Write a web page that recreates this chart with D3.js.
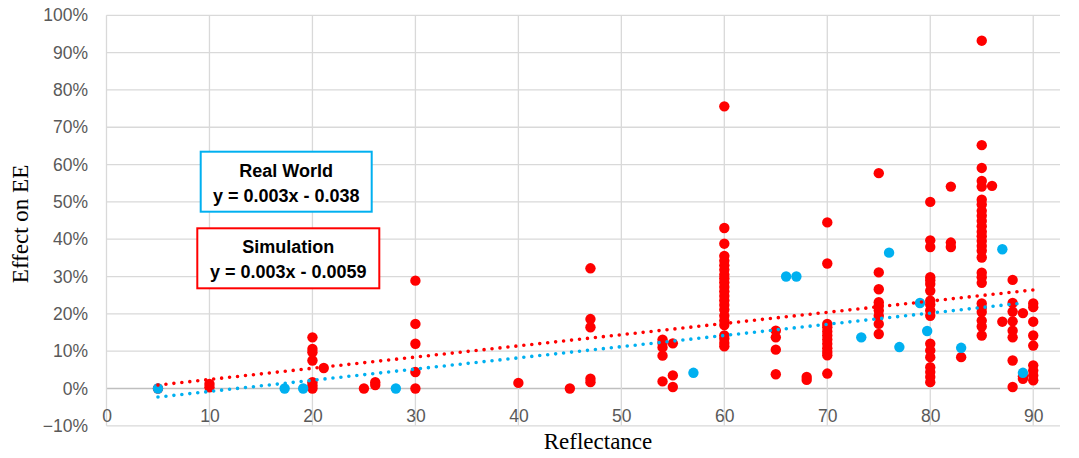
<!DOCTYPE html>
<html>
<head>
<meta charset="utf-8">
<script src="https://cdn.jsdelivr.net/npm/d3@7"></script>
<style>
  body { margin: 0; background: #fff; }
  svg { display: block; }
</style>
</head>
<body>
<div id="chart"></div>
<script>
// Simulation points (red): [reflectance, effect]
const simPoints = [
  [5, 0.0],
  [10, 0.012], [10, 0.003],
  [20, 0.137], [20, 0.106], [20, 0.097], [20, 0.075], [20, 0.017], [20, 0.008], [20, 0.0],
  [21.1, 0.055],
  [25, 0.0],
  [26.1, 0.017], [26.1, 0.009],
  [30, 0.289], [30, 0.173], [30, 0.12], [30, 0.044], [30, 0.0],
  [40, 0.015],
  [45, 0.0],
  [47, 0.322], [47, 0.186], [47, 0.164], [47, 0.026], [47, 0.017],
  [54, 0.131], [54, 0.122], [54, 0.11], [54, 0.088], [54, 0.019],
  [55, 0.121], [55, 0.035], [55, 0.004],
  [60, 0.756], [60, 0.43], [60, 0.388], [60, 0.355], [60, 0.342], [60, 0.33], [60, 0.318],
  [60, 0.305], [60, 0.295], [60, 0.284], [60, 0.272], [60, 0.26], [60, 0.248], [60, 0.236],
  [60, 0.224], [60, 0.211], [60, 0.195], [60, 0.182], [60, 0.17], [60, 0.142], [60, 0.133],
  [60, 0.122], [60, 0.113],
  [65, 0.155], [65, 0.137], [65, 0.104], [65, 0.038],
  [68, 0.031], [68, 0.023],
  [70, 0.445], [70, 0.335], [70, 0.173], [70, 0.164], [70, 0.153], [70, 0.142], [70, 0.131],
  [70, 0.12], [70, 0.108], [70, 0.098], [70, 0.089], [70, 0.04],
  [75, 0.577], [75, 0.311], [75, 0.266], [75, 0.231], [75, 0.222], [75, 0.209], [75, 0.195],
  [75, 0.173], [75, 0.146],
  [80, 0.50], [80, 0.397], [80, 0.379], [80, 0.298], [80, 0.29], [80, 0.28], [80, 0.262],
  [80, 0.235], [80, 0.225], [80, 0.209], [80, 0.195], [80, 0.12], [80, 0.102], [80, 0.084],
  [80, 0.057], [80, 0.044], [80, 0.031], [80, 0.017],
  [82, 0.541], [82, 0.391], [82, 0.379],
  [83, 0.084],
  [85, 0.932], [85, 0.652], [85, 0.591], [85, 0.556], [85, 0.541], [85, 0.506], [85, 0.493],
  [85, 0.476], [85, 0.463], [85, 0.449], [85, 0.435], [85, 0.42], [85, 0.408], [85, 0.395],
  [85, 0.382], [85, 0.369], [85, 0.351], [85, 0.31], [85, 0.298], [85, 0.283], [85, 0.228],
  [85, 0.216], [85, 0.205], [85, 0.182], [85, 0.166], [85, 0.142],
  [86, 0.543],
  [87, 0.179],
  [88, 0.291], [88, 0.229], [88, 0.206], [88, 0.18], [88, 0.155], [88, 0.137], [88, 0.075], [88, 0.004],
  [89, 0.202], [89, 0.033], [89, 0.026],
  [90, 0.228], [90, 0.218], [90, 0.179], [90, 0.142], [90, 0.115], [90, 0.062], [90, 0.048],
  [90, 0.035], [90, 0.022]
];

// Real world points (blue)
const realPoints = [
  [5, 0.0], [17.3, 0.0], [19.1, 0.0], [28.1, 0.0], [57, 0.042], [66, 0.30], [67, 0.30],
  [73.3, 0.137], [76, 0.364], [77, 0.111], [79, 0.229], [79.7, 0.154], [83, 0.109],
  [87, 0.373], [89, 0.042]
];

// trendlines: label, slope, intercept, x range
const trendNames = ["Real World", "Simulation"];
const trendSlopes = [0.003, 0.003];
const trendIntercepts = [-0.038, -0.0059];
const trendRanges = [[5, 89], [5, 90]];
const trendLabels = ["y = 0.003x - 0.038", "y = 0.003x - 0.0059"];

const xTicks = [0, 10, 20, 30, 40, 50, 60, 70, 80, 90];
const yTicks = [-0.1, 0, 0.1, 0.2, 0.3, 0.4, 0.5, 0.6, 0.7, 0.8, 0.9, 1.0];

const W = 1079, H = 458;
const RED = "#ff0000", BLUE = "#00b0f0";
const tickFont = "'Liberation Sans', Arial, sans-serif";
const serif = "'Liberation Serif', 'Times New Roman', serif";

const svg = d3.select("#chart").append("svg").attr("width", W).attr("height", H);

const x = d3.scaleLinear().domain([0, 92.6]).range([106.5, 1060]);
const y = d3.scaleLinear().domain([-0.1, 1.0]).range([425.8, 15.3]);

// gridlines
svg.append("g").selectAll("line").data(yTicks).join("line")
  .attr("x1", x(0)).attr("x2", x(92.6))
  .attr("y1", d => y(d)).attr("y2", d => y(d))
  .attr("stroke", d => d === 0 ? "#bfbfbf" : "#d9d9d9")
  .attr("stroke-width", d => d === 0 ? 1.5 : 1.3);

svg.append("g").selectAll("line").data(xTicks.filter(d => d > 0)).join("line")
  .attr("x1", d => x(d)).attr("x2", d => x(d))
  .attr("y1", y(1.0)).attr("y2", y(-0.1))
  .attr("stroke", "#d9d9d9").attr("stroke-width", 1.3);

// vertical axis line
svg.append("line")
  .attr("x1", x(0)).attr("x2", x(0))
  .attr("y1", y(1.0)).attr("y2", y(-0.1))
  .attr("stroke", "#d9d9d9").attr("stroke-width", 1.3);

// y tick labels
const yAxis = svg.append("g")
  .attr("transform", `translate(${x(0) - 15.5},0)`)
  .call(d3.axisLeft(y).tickValues(yTicks).tickFormat(d3.format(".0%")).tickSize(0));
yAxis.select(".domain").remove();
yAxis.selectAll("text")
  .attr("fill", "#595959")
  .style("font-family", tickFont)
  .style("font-size", "17.5px");

// x tick labels, next to axis at 0
const xAxis = svg.append("g")
  .attr("transform", `translate(0,${y(0)})`)
  .call(d3.axisBottom(x).tickValues(xTicks).tickFormat(d3.format("d")).tickSize(0));
xAxis.select(".domain").remove();
xAxis.selectAll("text")
  .attr("fill", "#595959")
  .attr("dy", "0")
  .attr("y", 34)
  .style("font-family", tickFont)
  .style("font-size", "17.5px");

// points
svg.append("g").selectAll("circle").data(simPoints).join("circle")
  .attr("cx", d => x(d[0])).attr("cy", d => y(d[1]))
  .attr("r", 5.2).attr("fill", RED);

svg.append("g").selectAll("circle").data(realPoints).join("circle")
  .attr("cx", d => x(d[0])).attr("cy", d => y(d[1]))
  .attr("r", 5.2).attr("fill", BLUE);

// dotted trendlines
const trendColors = [BLUE, RED];
[1, 0].forEach(i => {
  const pts = trendRanges[i].map(v => [v, trendSlopes[i] * v + trendIntercepts[i]]);
  svg.append("path")
    .datum(pts)
    .attr("fill", "none")
    .attr("stroke", trendColors[i])
    .attr("stroke-width", 3.6)
    .attr("stroke-linecap", "round")
    .attr("stroke-dasharray", "0 8")
    .attr("d", d3.line().x(d => x(d[0])).y(d => y(d[1])));
});

// equation boxes
const boxes = [
  { x0: 200.7, y0: 151.7, w: 171, h: 60 },
  { x0: 197.3, y0: 228.3, w: 182, h: 60 }
];
boxes.forEach((b, i) => {
  const g = svg.append("g");
  g.append("rect")
    .attr("x", b.x0).attr("y", b.y0).attr("width", b.w).attr("height", b.h)
    .attr("fill", "#fff").attr("stroke", trendColors[i]).attr("stroke-width", 2);
  g.append("text")
    .attr("x", b.x0 + b.w / 2).attr("y", b.y0 + 25)
    .attr("text-anchor", "middle")
    .style("font-family", tickFont).style("font-weight", "bold").style("font-size", "18px")
    .text(trendNames[i]);
  g.append("text")
    .attr("x", b.x0 + b.w / 2).attr("y", b.y0 + 50)
    .attr("text-anchor", "middle")
    .style("font-family", tickFont).style("font-weight", "bold").style("font-size", "18px")
    .text(trendLabels[i]);
});

// axis titles
svg.append("text")
  .attr("x", 598).attr("y", 449)
  .attr("text-anchor", "middle")
  .style("font-family", serif).style("font-size", "23px").attr("fill", "#000")
  .text("Reflectance");

svg.append("text")
  .attr("transform", `translate(28,224) rotate(-90)`)
  .attr("text-anchor", "middle")
  .style("font-family", serif).style("font-size", "23px").attr("fill", "#000")
  .text("Effect on EE");
</script>
</body>
</html>
